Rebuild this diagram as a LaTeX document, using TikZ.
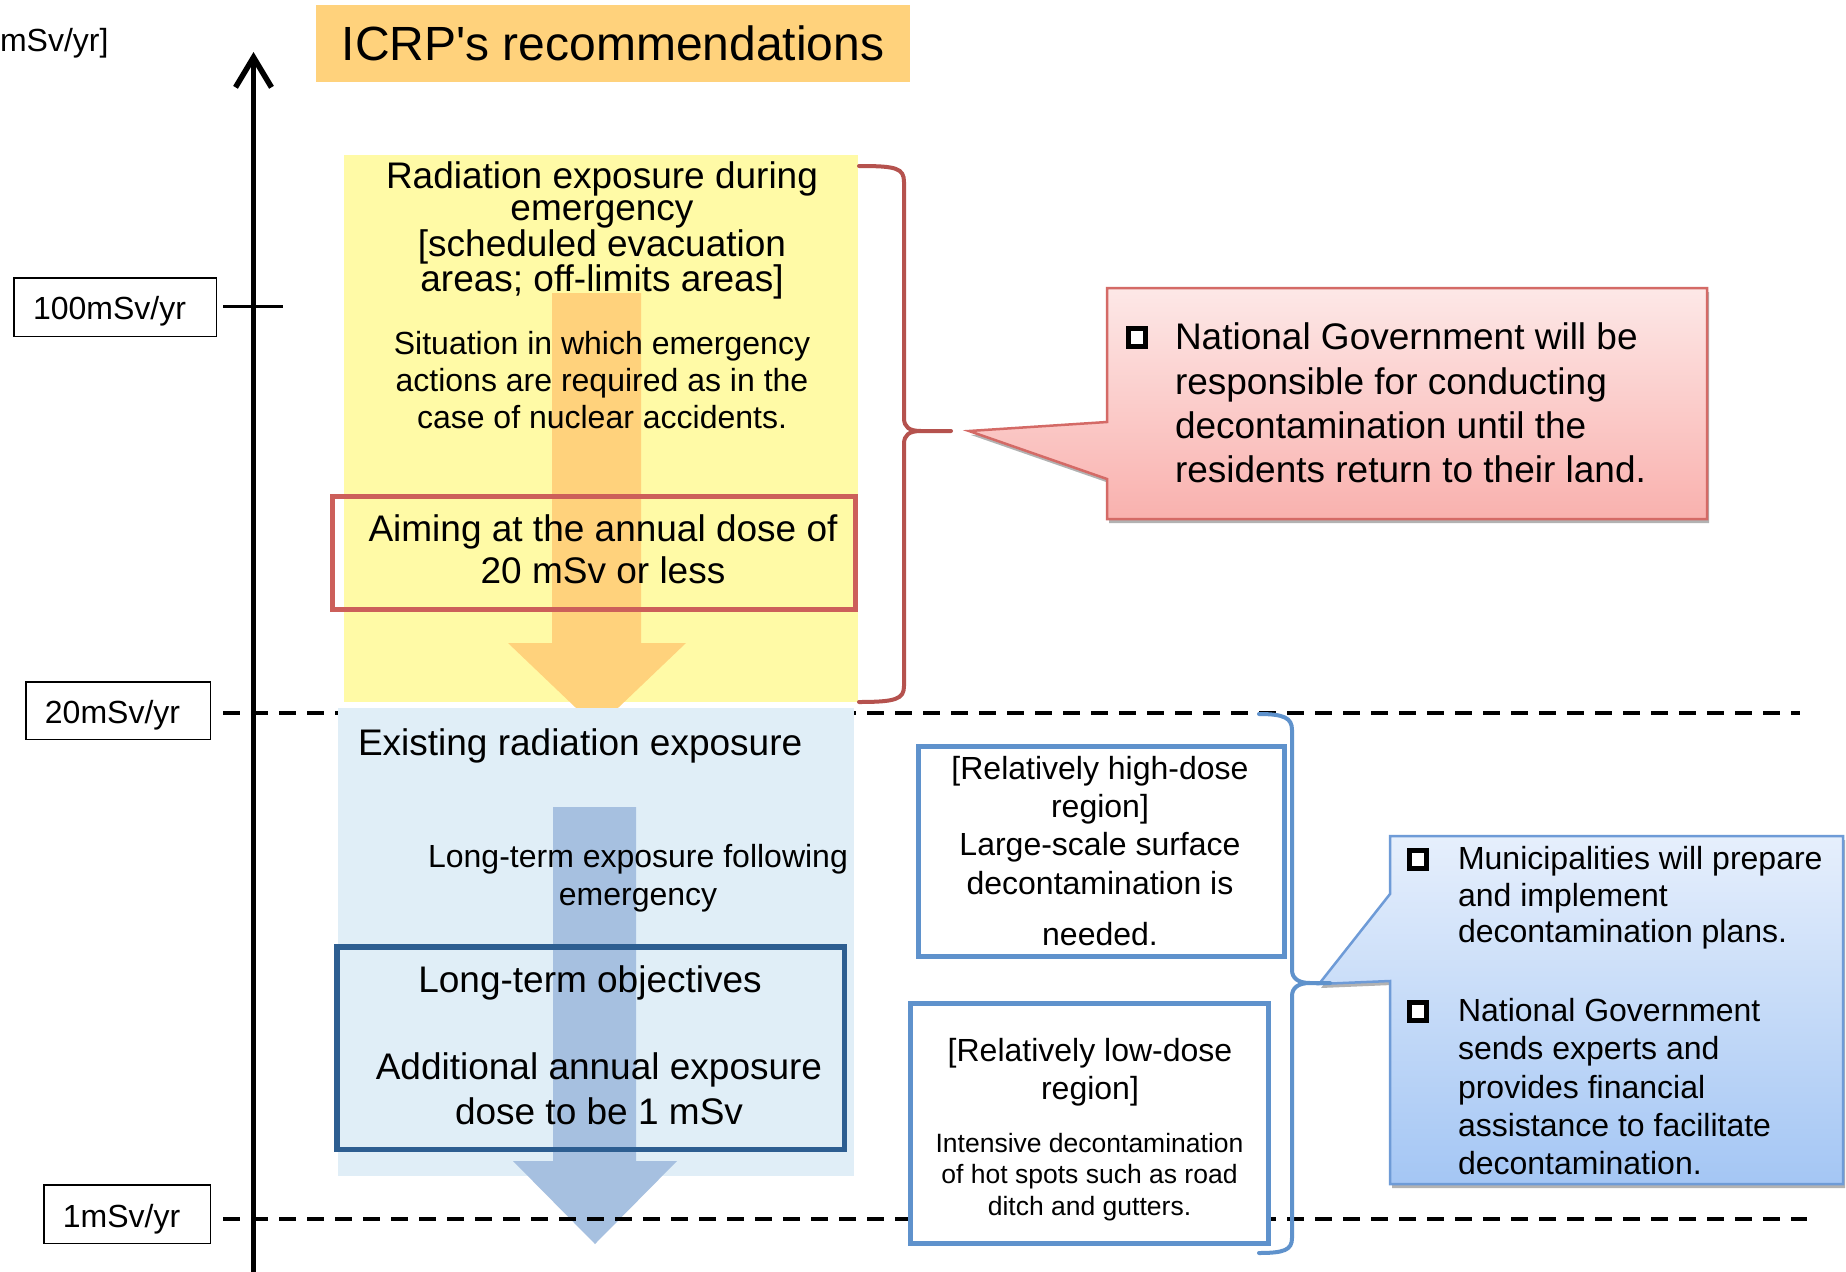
\documentclass[tikz,border=0pt]{standalone}
\usepackage{fontspec}
\setmainfont{Liberation Sans}
\usetikzlibrary{arrows.meta,shadows}

\definecolor{titleorange}{HTML}{FFD27C}
\definecolor{emyellow}{HTML}{FFFAA6}
\definecolor{exblue}{HTML}{E0EEF7}
\definecolor{arrowblue}{HTML}{A6C0E0}
\definecolor{aimred}{HTML}{CC5F5A}
\definecolor{bracered}{HTML}{B5524E}
\definecolor{objblue}{HTML}{2D5E91}
\definecolor{regionblue}{HTML}{5F92CC}
\definecolor{calloutred}{HTML}{D46A66}
\definecolor{redtop}{HTML}{FDE8E7}
\definecolor{redbottom}{HTML}{F9B1AE}
\definecolor{calloutblue}{HTML}{6E9BD7}
\definecolor{bluetop}{HTML}{E6EFFC}
\definecolor{bluebottom}{HTML}{A4C6F4}

\newcommand{\fsz}[2]{\fontsize{#1}{#2}\selectfont}

\begin{document}
\begin{tikzpicture}[x=1pt,y=-1pt,
  every node/.style={inner sep=0pt,outer sep=0pt},
  lblbox/.style={draw=black,line width=1.5,fill=white},
  lbltext/.style={font=\fsz{32}{38},anchor=base},
  doseline/.style={line width=3.5,dash pattern=on 17pt off 11pt},
  bulletbox/.style={draw=black,line width=5,fill=white,minimum width=17,minimum height=18},
  regionbox/.style={draw=regionblue,line width=5,fill=white},
  bracestyle/.style={line width=4,line cap=round,line join=round},
  callshadow/.style={drop shadow={shadow xshift=2pt,shadow yshift=-4pt,opacity=0.3,fill=black}}]

% canvas
\fill[white] (0,0) rectangle (1846,1271);
\useasboundingbox (0,0) rectangle (1846,1271);

% 20 mSv/yr reference line (runs under the boxes)
\coordinate (d20a) at (223,713);
\coordinate (d20b) at (1800,713);
\draw[doseline] (d20a) -- (d20b);

% heading
\node[fill=titleorange,minimum width=594,minimum height=77,font=\fsz{48}{58}] (title) at (613,43.5) {ICRP\textquotesingle s recommendations};

% emergency exposure band
\node[fill=emyellow,minimum width=514,minimum height=547] (emerg) at (601,428.5) {};
\fill[titleorange] (552,293) -- (641,293) -- (641,643) -- (686,643) -- (597,728) -- (508,643) -- (552,643) -- cycle;

% existing exposure band
\node[fill=exblue,minimum width=516,minimum height=468] (exist) at (596,942) {};
\fill[arrowblue] (553,807) -- (636,807) -- (636,1161) -- (677,1161) -- (595,1244) -- (513,1161) -- (553,1161) -- cycle;

% 1 mSv/yr reference line
\coordinate (d1a) at (223,1219);
\coordinate (d1b) at (1807,1219);
\draw[doseline] (d1a) -- (d1b);

% target frames
\node[draw=aimred,line width=5,minimum width=523,minimum height=113] (aim) at (594,553) {};
\node[draw=objblue,line width=5.5,minimum width=507.5,minimum height=202.5] (obj) at (590.5,1048) {};

% texts of the bands
\node[font=\fsz{37}{32.5},align=center] (emtitle) at (602,230.5)
  {Radiation exposure during\\emergency\\{}[scheduled evacuation\\areas; off-limits areas]};
\node[font=\fsz{32}{37},align=center] (situ) at (602,380.4)
  {Situation in which emergency\\actions are required as in the\\case of nuclear accidents.};
\node[font=\fsz{37}{42},align=center] (aimtxt) at (603,549.5)
  {Aiming at the annual dose of\\20 mSv or less};
\node[font=\fsz{37}{44},anchor=base west] (existtxt) at (358,755) {Existing radiation exposure};
\node[font=\fsz{32}{38.5},align=center] (longexp) at (638,878)
  {Long-term exposure following\\emergency};
\node[font=\fsz{37}{45},anchor=base] (objtitle) at (590,992) {Long-term objectives};
\node[font=\fsz{37}{45},align=center] (objtxt) at (599,1089)
  {Additional annual exposure\\dose to be 1 mSv};

% dose axis
\coordinate (axbot) at (253.5,1280);
\coordinate (axtop) at (253.5,52);
\draw[line width=5.5,-{Straight Barb[length=30pt,width=36pt]}] (axbot) -- (axtop);
\node[font=\fsz{32}{38},anchor=base west] (unit) at (0,52) {mSv/yr]};

\coordinate (t100a) at (223,306);
\coordinate (t100b) at (283,306);
\draw[line width=3] (t100a) -- (t100b);

\node[lblbox,minimum width=202.5,minimum height=58.5] (lb100) at (115,307) {};
\node[lbltext] (lt100) at (109.5,319) {100mSv/yr};
\node[lblbox,minimum width=184.5,minimum height=57.5] (lb20) at (118,710.5) {};
\node[lbltext] (lt20) at (112.5,723) {20mSv/yr};
\node[lblbox,minimum width=166.5,minimum height=58.5] (lb1) at (127,1214) {};
\node[lbltext] (lt1) at (121.5,1227) {1mSv/yr};

% brace for the emergency band
\draw[bracered,bracestyle] (859,166) .. controls (896,166) and (904,168) .. (904,182)
  -- (904,418) .. controls (904,427) and (909,431) .. (921,431) -- (951,431) -- (921,431)
  .. controls (909,431) and (904,435) .. (904,444) -- (904,686)
  .. controls (904,699) and (896,702) .. (859,702);

% region boxes
\node[regionbox,minimum width=366,minimum height=210] (high) at (1101.5,851.5) {};
\node[font=\fsz{32}{38.3},align=center] (hightxt) at (1100,851)
  {[Relatively high-dose\\region]\\Large-scale surface\\decontamination is\\[13pt]needed.};
\node[regionbox,minimum width=358,minimum height=240] (low) at (1089.5,1123.5) {};
\node[font=\fsz{32}{38},align=center] (lowtitle) at (1090,1072) {[Relatively low-dose\\region]};
\node[font=\fsz{26.5}{31.5},align=center] (lowtxt) at (1089.5,1177)
  {Intensive decontamination\\of hot spots such as road\\ditch and gutters.};

% callout: national government (emergency)
\path[draw=calloutred,line width=2.5,top color=redtop,bottom color=redbottom,callshadow]
  (1107,288) -- (1707,288) -- (1707,519) -- (1107,519) -- (1107,479) -- (969,431) -- (1107,422) -- cycle;
\node[bulletbox] (rb1) at (1137,337) {};
\node[font=\fsz{37}{44.3},align=left,anchor=west] (ngtxt) at (1175,403)
  {National Government will be\\responsible for conducting\\decontamination until the\\residents return to their land.};

% callout: municipalities and national government (existing)
\path[draw=calloutblue,line width=2.5,top color=bluetop,bottom color=bluebottom,callshadow]
  (1390,836) -- (1843,836) -- (1843,1184) -- (1390,1184) -- (1390,981) -- (1319,984) -- (1390,894) -- cycle;
\node[bulletbox] (bb1) at (1418,859.5) {};
\node[bulletbox] (bb2) at (1418,1011) {};
\node[font=\fsz{32}{36.5},align=left,anchor=west] (munitxt) at (1458,898.2)
  {Municipalities will prepare\\and implement\\decontamination plans.};
\node[font=\fsz{32}{38.4},align=left,anchor=west] (natgovtxt) at (1458,1086.6)
  {National Government\\sends experts and\\provides financial\\assistance to facilitate\\decontamination.};

% brace for the existing band
\draw[regionblue,bracestyle] (1259,714) .. controls (1284,714) and (1292,718) .. (1292,730)
  -- (1292,970) .. controls (1292,978) and (1298,983) .. (1310,983) -- (1330,983) -- (1310,983)
  .. controls (1298,983) and (1292,988) .. (1292,996) -- (1292,1238)
  .. controls (1292,1250) and (1284,1253) .. (1259,1253);

\end{tikzpicture}
\end{document}
